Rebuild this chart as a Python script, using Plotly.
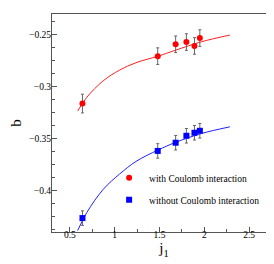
import plotly.graph_objects as go

# measured data points
j1 = [0.64, 1.48, 1.68, 1.80, 1.89, 1.95]
b_coul = [-0.3163, -0.2706, -0.2592, -0.2570, -0.2608, -0.2532]
err_coul = [0.009, 0.008, 0.008, 0.008, 0.008, 0.008]
b_nocoul = [-0.4266, -0.3619, -0.3540, -0.3473, -0.3444, -0.3425]
err_nocoul = [0.007, 0.007, 0.007, 0.007, 0.007, 0.007]

# fitted curves
fit_j = [0.586, 0.689, 0.871, 1.055, 1.238, 1.484, 1.678, 1.970, 2.285]
fit_coul = [-0.3235, -0.3102, -0.2944, -0.2840, -0.2769, -0.2706, -0.2649, -0.2567, -0.2503]
fit_nocoul = [-0.4386, -0.4212, -0.3990, -0.3841, -0.3720, -0.3610, -0.3537, -0.3451, -0.3387]

serif = "Liberation Serif"
axis_col = "#555555"
err_col = "#666666"

fig = go.Figure()
fig.add_trace(go.Scatter(x=fit_j, y=fit_coul, mode="lines", line=dict(color="#ff2020", width=1, shape="spline"),
                         showlegend=False, hoverinfo="skip"))
fig.add_trace(go.Scatter(x=fit_j, y=fit_nocoul, mode="lines", line=dict(color="#2020ff", width=1, shape="spline"),
                         showlegend=False, hoverinfo="skip"))
fig.add_trace(go.Scatter(x=j1, y=b_coul, mode="markers", name="with Coulomb interaction", legendgroup="a",
                         marker=dict(symbol="circle", size=6, color="#ff0000"),
                         error_y=dict(type="data", array=err_coul, color=err_col, thickness=1, width=1.5)))
fig.add_trace(go.Scatter(x=j1, y=b_nocoul, mode="markers", name="without Coulomb interaction", legendgroup="b",
                         marker=dict(symbol="square", size=6, color="#0000ff"),
                         error_y=dict(type="data", array=err_nocoul, color=err_col, thickness=1, width=1.5)))

fig.update_layout(
    width=274, height=264,
    margin=dict(l=41, r=6, t=5, b=40),
    paper_bgcolor="white", plot_bgcolor="white",
    font=dict(family=serif, size=10, color="black"),
    legend=dict(x=0.255, y=0.315, xanchor="left", yanchor="top", bgcolor="rgba(0,0,0,0)",
                font=dict(family=serif, size=9.5), itemwidth=30, traceorder="grouped", tracegroupgap=3),
    xaxis=dict(range=[0.3, 2.8], tickvals=[0.5, 1, 1.5, 2, 2.5], ticktext=["0.5", "1", "1.5", "2", "2.5"],
               ticks="inside", ticklen=5, tickwidth=1, tickcolor=axis_col,
               minor=dict(dtick=0.25, tick0=0, ticks="inside", ticklen=3, tickcolor=axis_col),
               showline=True, linecolor=axis_col, linewidth=1, mirror=True, showgrid=False, zeroline=False,
               tickfont=dict(family=serif, size=9.5), ticklabelstandoff=-6,
               title=dict(text="j<sub>1</sub>", font=dict(family=serif, size=15), standoff=2)),
    yaxis=dict(range=[-0.44, -0.23], tickvals=[-0.4, -0.35, -0.3, -0.25], ticktext=["\u22120.4", "\u22120.35", "\u22120.3", "\u22120.25"],
               ticks="inside", ticklen=5, tickwidth=1, tickcolor=axis_col,
               minor=dict(dtick=0.0125, tick0=0, ticks="inside", ticklen=3, tickcolor=axis_col),
               showline=True, linecolor=axis_col, linewidth=1, mirror=True, showgrid=False, zeroline=False,
               tickfont=dict(family=serif, size=9.5), ticklabelstandoff=-2,
               title=dict(text="b", font=dict(family=serif, size=15), standoff=6)),
)

fig.write_html("out.html")
